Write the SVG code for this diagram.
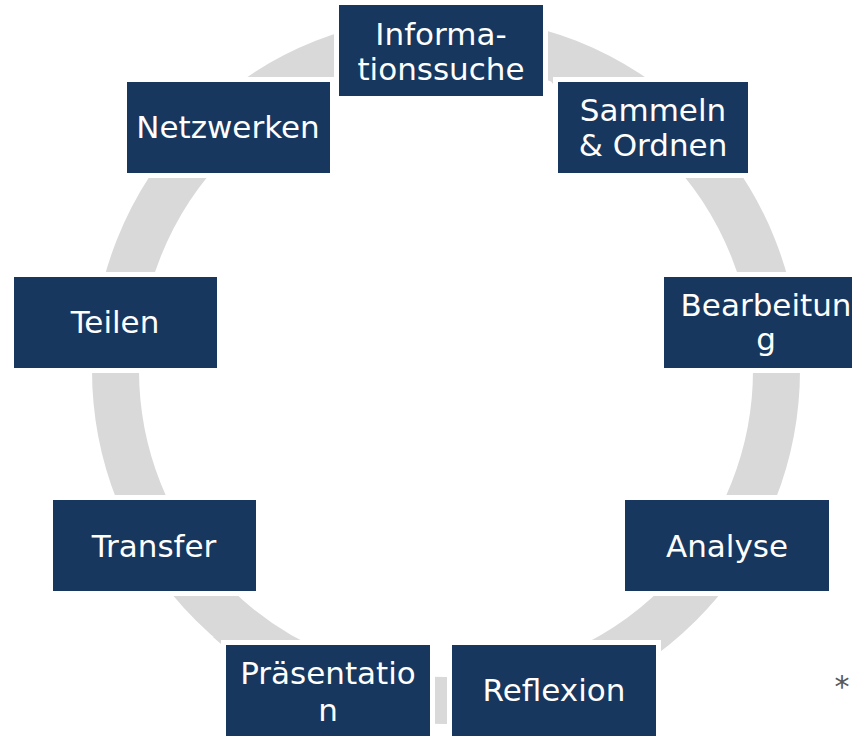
<svg xmlns="http://www.w3.org/2000/svg" width="852" height="736" viewBox="0 0 852 736">
  <style>
    .box { fill: #17375e; stroke: #ffffff; stroke-width: 10; paint-order: stroke; }
    .lbl { font-family: "DejaVu Sans", Verdana, sans-serif; font-size: 31px; fill: #ffffff; text-anchor: middle; }
    .ring { fill: none; stroke: #d9d9d9; stroke-width: 47; }
    .flare { fill: #d9d9d9; }
  </style>
  <rect width="852" height="736" fill="#ffffff"/>
  <g id="connectors">
    <circle class="ring" cx="446" cy="370" r="330.5"/>
    <polygon class="flare" points="547,76 558,78 553,84"/>
    <polygon class="flare" points="213,637 227,637 221,644"/>
    <polygon class="flare" points="655,636 668,631 662,649"/>
  </g>
  <g id="node-informationssuche">
    <rect class="box" x="339" y="5" width="204" height="91"/>
    <text class="lbl" x="441" y="45">Informa-</text>
    <text class="lbl" x="441" y="80">tionssuche</text>
  </g>
  <g id="node-sammeln">
    <rect class="box" x="558" y="82" width="190" height="91"/>
    <text class="lbl" x="653" y="121">Sammeln</text>
    <text class="lbl" x="653" y="156">&amp; Ordnen</text>
  </g>
  <g id="node-bearbeitung">
    <rect class="box" x="664" y="277" width="204" height="91"/>
    <text class="lbl" x="766" y="316">Bearbeitun</text>
    <text class="lbl" x="766" y="350">g</text>
  </g>
  <g id="node-analyse">
    <rect class="box" x="625" y="500" width="204" height="91"/>
    <text class="lbl" x="727" y="557">Analyse</text>
  </g>
  <g id="node-reflexion">
    <rect class="box" x="452" y="645" width="204" height="96"/>
    <text class="lbl" x="554" y="701">Reflexion</text>
  </g>
  <g id="node-praesentation">
    <rect class="box" x="226" y="645" width="204" height="96"/>
    <text class="lbl" x="328" y="684">Präsentatio</text>
    <text class="lbl" x="328" y="721">n</text>
  </g>
  <g id="node-transfer">
    <rect class="box" x="53" y="500" width="203" height="91"/>
    <text class="lbl" x="154" y="557">Transfer</text>
  </g>
  <g id="node-teilen">
    <rect class="box" x="14" y="277" width="203" height="91"/>
    <text class="lbl" x="115" y="333">Teilen</text>
  </g>
  <g id="node-netzwerken">
    <rect class="box" x="127" y="82" width="203" height="91"/>
    <text class="lbl" x="228" y="138">Netzwerken</text>
  </g>
  <text x="842" y="697" font-family="DejaVu Sans, sans-serif" font-size="30" fill="#595959" text-anchor="middle">*</text>
</svg>
